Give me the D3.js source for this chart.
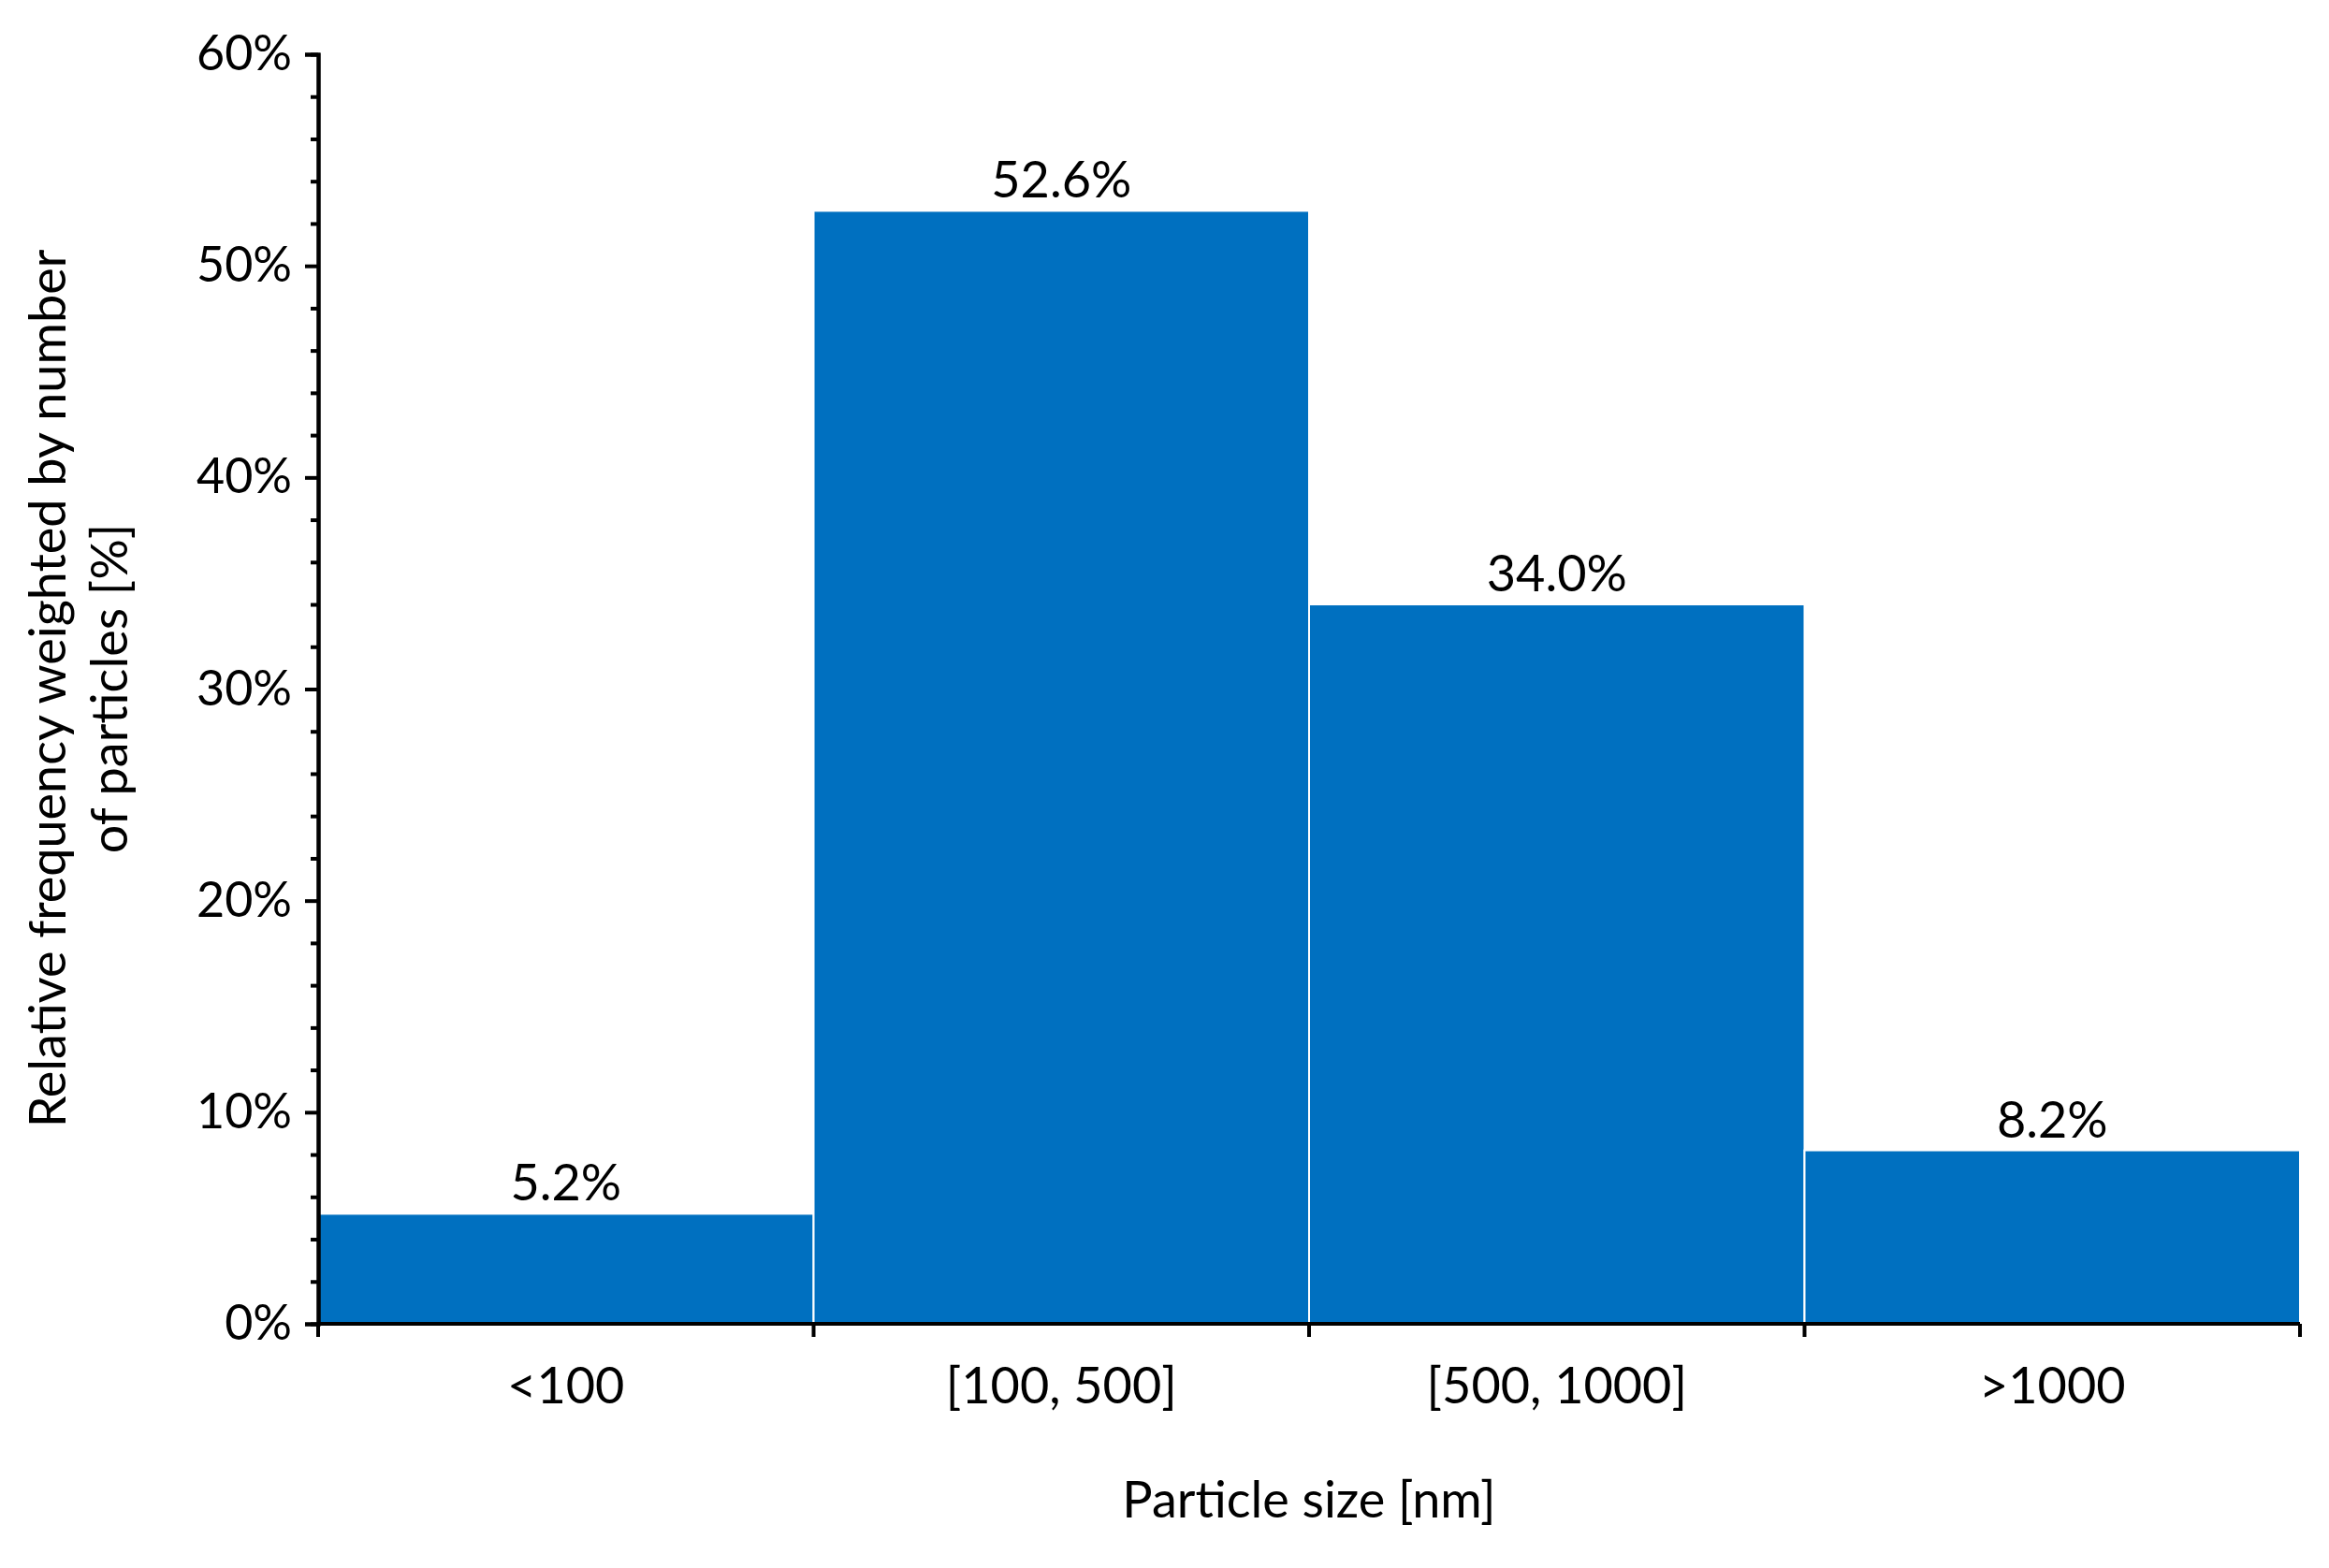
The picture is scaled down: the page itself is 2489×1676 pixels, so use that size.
<!DOCTYPE html><html><head><script src="https://cdn.jsdelivr.net/npm/d3@7"></script>
<style>body{margin:0;background:#fff}</style></head><body><svg id="c" width="2489" height="1676"></svg>
<script>
const categories=["<100","[100, 500]","[500, 1000]",">1000"];
const values=[5.2,52.6,34.0,8.2];
const yTicks=[0,10,20,30,40,50,60];
const svg=d3.select("#c"),font="Lato, 'Open Sans', sans-serif";
const L=340,R=2458,T=58,B=1415;
const x=d3.scaleBand().domain(categories).range([L,R]).padding(0);
const y=d3.scaleLinear().domain([0,60]).range([B,T]);
svg.selectAll("rect.b").data(values).join("rect").attr("x",(d,i)=>x(categories[i])).attr("width",x.bandwidth())
 .attr("y",d=>y(d)).attr("height",d=>B-y(d)).attr("fill","#0070C0").attr("stroke","#fff").attr("stroke-width",2);
svg.selectAll("text.v").data(values).join("text").attr("x",(d,i)=>x(categories[i])+x.bandwidth()/2).attr("y",d=>y(d)-14)
 .attr("text-anchor","middle").attr("font-family",font).attr("font-size",54).text(d=>d.toFixed(1)+"%");
// y axis
const ya=svg.append("g").attr("transform",`translate(${L},0)`).call(d3.axisLeft(y).tickValues(yTicks).tickFormat(d=>d+"%").tickSize(14).tickPadding(14));
ya.append("g").call(d3.axisLeft(y).tickValues(d3.range(0,61,2).filter(v=>v%10)).tickFormat("").tickSize(8));
ya.selectAll("path.domain").attr("stroke-width",4);
ya.selectAll("line").attr("stroke-width",4);
ya.selectAll("text").attr("font-family",font).attr("font-size",52).attr("fill","#000");
// x axis
const xa=svg.append("g").attr("transform",`translate(0,${B})`);
xa.append("line").attr("x1",L).attr("x2",R).attr("stroke","#000").attr("stroke-width",4);
const bounds=[L,...categories.map(c=>x(c)+x.bandwidth())];
xa.selectAll("line.t").data(bounds).join("line").attr("x1",d=>d).attr("x2",d=>d).attr("y1",0).attr("y2",14).attr("stroke","#000").attr("stroke-width",4);
xa.selectAll("text").data(categories).join("text").attr("x",d=>x(d)+x.bandwidth()/2).attr("y",85)
 .attr("text-anchor","middle").attr("font-family",font).attr("font-size",54).text(d=>d);
svg.append("text").attr("x",(L+R)/2).attr("y",1622).attr("text-anchor","middle").attr("font-family",font).attr("font-size",54).text("Particle size [nm]");
const yt=svg.append("text").attr("transform","translate(70,736) rotate(-90)").attr("text-anchor","middle").attr("font-family",font).attr("font-size",54);
yt.append("tspan").attr("x",0).attr("dy",0).text("Relative frequency weighted by number");
yt.append("tspan").attr("x",0).attr("dy",66).text("of particles [%]");
</script></body></html>
